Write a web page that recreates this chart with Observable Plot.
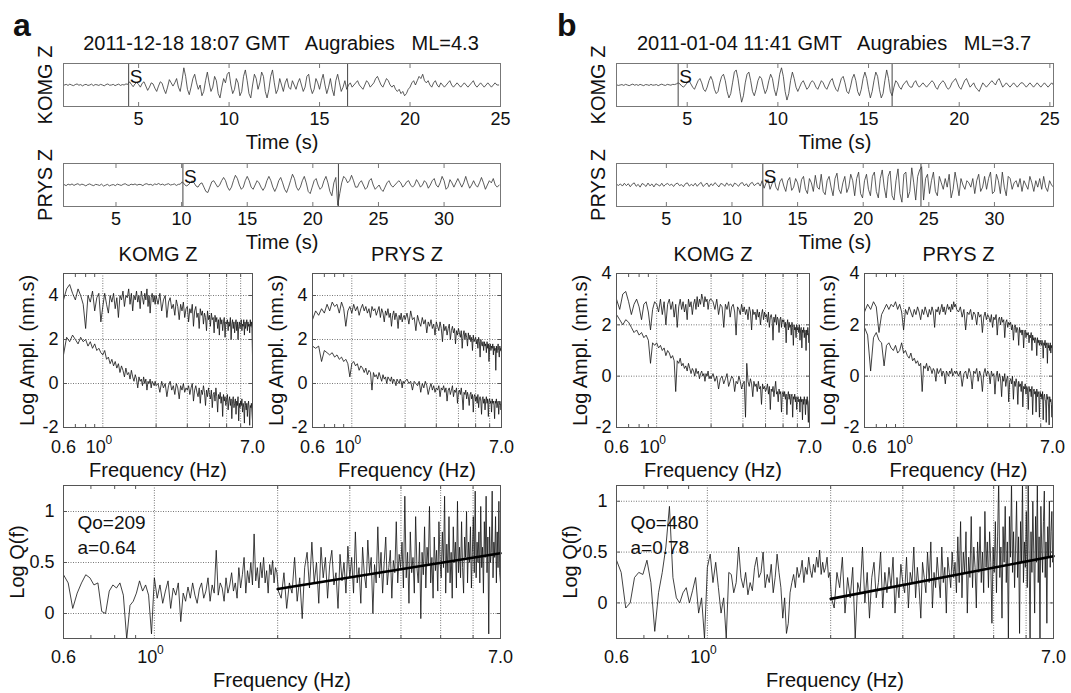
<!DOCTYPE html>
<html><head><meta charset="utf-8">
<script src="https://cdn.jsdelivr.net/npm/d3@7"></script>
<script src="https://cdn.jsdelivr.net/npm/@observablehq/plot@0.6"></script>
<style>
body{margin:0;background:#fff;}
#fig{position:relative;width:1071px;height:693px;overflow:hidden;font-family:"Liberation Sans",Arial,sans-serif;color:#111;background:#fff;}
.lbl{position:absolute;white-space:pre;line-height:1;}
</style></head><body><div id="fig"></div>
<script>
// ---------------- DATA ----------------
const panelLetters = ["a", "b"];
const eventTitles = ["2011-12-18 18:07 GMT   Augrabies   ML=4.3", "2011-01-04 11:41 GMT   Augrabies   ML=3.7"];
const stationNames = ["KOMG Z", "PRYS Z"];
const qoLabels = ["Qo=209", "Qo=480"];
const aLabels = ["a=0.64", "a=0.78"];

// seismograms (relative amplitude), sampled from start with step (s)
const komgAStart = 0.9, komgAStep = 0.1;
const komgAAmp = [0,0.3,-0.2,0.4,0,-0.3,0.2,0.5,-0.1,0.2,-0.4,0.1,0.3,-0.2,0,0.4,-0.3,0.2,0.1,-0.2,0.3,0,-0.4,0.2,0.5,-0.1,0,0.3,-0.3,0.1,0.4,-0.2,0.2,0,0.5,0.3,
1.5,0.3,-0.8,0.5,1.2,
0.2,-1,0.8,1.5,-0.5,-2.5,-1,1,0.5,-1.5,
-3,-0.5,1.5,0.8,-2,-4,-1,2.5,1,-0.5,
1,3,-1,-3,2,8,4,-2,-4.5,-1,
3,5,1,-2,0,-5,-3,2,6,1,
-3,-1,4,2,-4,-6,-1,3,1,5,
6,0,-4,-2,3,1,-5,-3,4,7,
2,-4,-6,0,5,3,-2,1,6,4,
-3,-6,-2,4,7,1,-4,-2,3,0,
-3,1,3,-1,-2,2,0,-2,1,3,
0,-3,-1,4,5,-1,-4,-2,3,1,
-2,2,5,0,-4,-1,3,-2,-5,2,
5,1,-3,-1,2,-2,0,1,-1,0,
1,2,0,-1,-2,0,2,1,-1,0,
1,3,4,2,0,-1,1,3,2,0,
-1,0,-2,-3,-2,-4,-3,-5,-4,-2,
-1,1,2,0,2,4,3,5,2,1,
2,0,-1,1,2,0,-1,1,0,-1,
0,1,2,0,-1,0,1,0,-1,0,
1,0,-1,0,1,2,0,-1,0,1,
0,-1,0,1,0,-1,0,1,0,0];
const komgAPicks = [4.45, 16.55];

const prysAStart = 1.05, prysAStep = 0.15;
const prysAAmp = [0.2,-0.3,0.4,0,0.5,-0.2,0.3,0.6,-0.1,0.4,0.1,-0.4,0.2,0.5,0,-0.3,0.3,0.1,-0.2,0.4,
-0.5,-0.1,0.3,-0.4,0,0.2,-0.3,0.4,0.1,-0.2,0.3,0.6,0,-0.2,0.4,0.1,0.5,-0.1,0.3,0.2,
-0.3,0.4,0.6,0.1,0.3,-0.2,0.5,0.2,0.7,0.1,0.4,-0.1,0.3,0.6,0,0.2,0.5,-0.2,0.3,0.4,
1.5,0.5,-0.5,0,1,2,1,-0.5,-1,0.5,
1,-1,-3,-3.5,-1,1.5,2,0.5,-1,0,
2,3.5,2,-1,-2.5,-1,2,4.5,3,0,
-2,-1,2,4,2,-1,-2,0,2,1,
-1,-2.5,-1,2,4,2,-1,-3,-1,2,
3.5,1,-2,-3.5,-1,2,5,3,-1,-2.5,
-1,2,4,1,-3,-4,-1,2,3,0,
-2,-1,2,4,1,-3,-5,1,3.5,
-9.5,
-4,1,4,3,1,2,4.5,2,-1,-1,
1,2,0,-2,-1,2,3,0,-2,-1,
0,-2,-3,-1,1,2,0,-1,0,1,
2,1,-1,0,1.5,2,0,-1,0,2.5,
1,-1,0,2,1,-1.5,0,2,3,0,
-1,1,4,2,-2,-1,2.5,1,-1,1,
3,1,-1,1,4,1,-1.5,0,2,0,
-1,1,3.5,1,-2,0,2,1,3,0,
-1,0];
const prysAPicks = [10.1, 21.95];

const komgBStart = 1.1, komgBStep = 0.1;
const komgBAmp = [0.1,-0.2,0,0.2,-0.2,0.3,0,-0.3,0.1,0.4,-0.1,0.2,-0.2,0.3,0,-0.3,0.2,0.1,-0.2,0.3,-0.1,0,0.2,-0.3,0.1,0.4,0,-0.2,0.3,0.1,-0.1,0.3,0.2,0.5,
1,0.5,-0.5,-1,0,
1,2,0.5,-1,-2,0,2,3,1,-2,
-3,-1,2,4,2,-2,-4,-3,1,4,
5,2,-3,-6,-4,1,6,7,3,-3,
-8,-5,1,5,6,2,-3,-5,-2,2,
4,3,-1,-4,-2,2,5,3,-2,-5,
-1,5,8,4,-3,-7,-4,2,6,3,
-1,-3,-1,1,2,0,-2,-1,1,2,
1,-1,-2,0,2,1,-1,-2,0,2,
3,0,-2,-3,0,3,4,1,-3,-4,
-1,3,5,2,-3,-5,-2,3,6,3,
-2,-6,-3,2,6,4,-2,-6,-4,2,
7,3,-3,-5,-1,2,1,-1,-2,0,
1,2,0,-1,-1,1,2,0,-1,0,
1,0,-1,0,1,2,1,-1,-2,0,
1,2,1,-1,-2,-1,1,2,3,1,
-1,-2,0,2,3,1,-1,0,1,-1,
-2,-3,-1,1,0,-1,0,1,2,1,
0,2,3,1,-1,0,1,0,-1,0,
1,0,-1,0,1,1,0,-1,0,1,
0,-1,0,1,0,-1,0,1,0,-1,
0,1,0,-1,0,1,2,0,-1,0];
const komgBPicks = [4.5, 16.3];

const prysBStart = 1.2, prysBStep = 0.15;
const prysBAmp = [0.3,-0.2,0.5,-0.5,0.8,-0.3,0.6,-0.8,0.4,1,-0.6,0.3,-1,0.7,0.2,-0.7,0.9,-0.4,0.5,-0.9,0.6,0.1,
-0.5,0.8,-0.6,0.3,0.7,-0.2,0.4,-0.7,0.5,0.9,-0.3,0.2,-0.8,0.6,1,-0.5,0.3,-0.4,0.8,-0.6,
0.5,1.2,-0.7,0.2,0.9,-0.8,0.6,-0.3,1.1,0.2,-0.9,0.7,0.4,-0.6,1,-0.2,0.5,-0.8,0.9,0.3,
-0.6,0.8,1.1,-0.4,0.6,-0.9,0.7,1.2,-0.3,0.5,1,-0.5,
2,-1.5,1,2.5,-2,0.5,3,-1,-2.5,1.5,
3,-0.5,-3,2,3.5,-2.5,-1,3,1,-3.5,
2.5,4,-2,-4,3,1,-3,4.5,-1,-2,
5,-3,-4.5,2,4,-1,-5,3,5.5,-2,
-4,1,4,-3.5,-1,5,2,-5,3,6,
-4,-6,2,5,-2,-5,4,6,-3,-6,
3,7,-1,-6,4,6.5,-5,-7,2,7.5,
-4,-8,5,6,-6,-3,8,1,-7,4,
7,
8.5,
-7,3,5,-4,2,6,-3,-5,4,1,
-2,3,-1,5,-6,-2,6,1,-5,3,
0,-2,2,1,-1,3,-4,2,5,-3,
-1,4,-2,3,6,-4,-3,5,2,-4,
6,-1,-5,4,3,-2,1,2,-1,3,
-3,2,0,-2,4,1,-3,2,-1,3,
-2,4,-1,-3,2,0,-1,3,1,2];
const prysBPicks = [12.35, 24.4];

const komgTicks = [5, 10, 15, 20, 25];
const prysTicks = [5, 10, 15, 20, 25, 30];

// spectra: first 56 samples at 0.6 + 0.025*i Hz, then from 2.0 Hz every 0.05 Hz
const specLowStart = 0.6, specLowStep = 0.025, specLowCount = 56;
const specHighStart = 2.0, specHighStep = 0.05;
const specAKomgUpper = [3.8,4.3,4.5,4.1,3.8,4.3,4.0,3.6,2.5,4.0,3.7,4.2,3.3,3.9,4.1,2.8,
3.5,4.1,3.6,3.2,4.0,3.7,4.1,3.4,3.9,3.0,4.0,3.8,4.2,3.5,4.0,3.9,
4.3,3.6,4.1,3.3,4.0,3.8,4.2,3.7,4.0,3.4,4.2,3.9,3.6,4.1,3.8,4.3,3.5,4.0,3.2,3.9,4.1,3.7,4.0,3.6,
4.0,
3.6,4.1,3.3,3.8,4.0,3.0,3.7,3.9,3.4,3.6,3.1,3.8,3.5,2.9,3.6,3.3,3.7,3.0,3.4,3.5,
2.8,3.4,3.2,3.6,2.6,3.3,3.5,3.0,3.2,2.5,3.4,3.1,3.3,2.7,3.2,3.0,2.4,3.3,2.9,3.1,
2.6,3.2,2.9,3.0,2.3,3.1,2.8,3.0,2.5,2.9,2.2,3.0,2.7,2.9,2.4,2.8,3.0,2.1,2.8,2.7,
2.9,2.4,2.8,2.6,3.0,2.0,2.7,2.9,2.5,2.8,2.3,2.7,2.9,2.4,2.8,2.0,2.6,2.8,2.5,2.7,
2.9,2.4,2.7,2.6,2.9,2.2,2.8,2.5,2.7,2.9,2.4,2.8,2.6,2.7,2.3,2.9,2.6,2.8,2.5,1.3];
const specAKomgLower = [1.3,2.1,1.9,2.2,2.0,1.8,2.1,1.9,2.0,1.7,1.9,1.6,1.8,1.5,1.6,1.4,
1.3,1.5,1.1,1.2,0.9,1.1,0.8,1.0,0.7,0.9,0.5,0.8,0.6,0.3,0.7,0.4,
0.5,0.2,0.6,0.3,0.1,0.4,0.2,-0.2,0.3,0.1,0.2,-0.1,0.3,0.0,0.2,-0.3,0.1,0.0,0.2,-0.2,0.1,0.0,-0.1,0.1,
-0.1,
0.0,-0.4,0.1,-0.2,0.0,-0.6,-0.1,0.1,-0.3,-0.1,-0.5,0.0,-0.2,-0.7,-0.1,-0.3,0.0,-0.4,-0.2,-0.3,
-0.1,-0.5,-0.2,0.0,-0.8,-0.3,-0.1,-0.4,-0.6,-0.2,-0.9,-0.3,-0.5,-0.1,-0.4,-1.0,-0.3,-0.6,-0.2,-0.5,
-0.7,-0.3,-1.1,-0.5,-0.4,-0.8,-0.2,-0.6,-1.3,-0.5,-0.7,-0.4,-0.9,-0.6,-1.5,-0.5,-0.8,-0.6,-1.0,-0.7,
-0.5,-1.2,-0.8,-0.6,-1.0,-0.7,-1.6,-0.8,-0.6,-1.1,-0.9,-0.7,-1.4,-0.8,-1.0,-0.6,-1.7,-0.9,-1.1,-0.8,
-1.0,-0.7,-1.3,-0.9,-1.1,-1.8,-0.8,-1.0,-1.2,-0.9,-1.5,-1.0,-0.8,-1.2,-1.9,-1.0,-1.1,-0.9,-1.3,-1.7];
const specAPrysUpper = [2.9,3.3,3.1,3.4,3.2,3.6,3.3,3.7,3.5,3.6,3.2,3.7,3.4,2.6,3.3,3.5,
3.2,3.6,3.3,3.5,3.1,3.4,3.6,3.3,3.5,3.2,3.4,3.0,3.5,3.3,3.4,3.1,
3.3,3.5,3.0,3.4,3.2,2.8,3.3,3.1,3.4,3.0,3.2,2.6,3.1,3.3,2.9,3.2,3.0,2.5,3.1,2.9,3.2,2.8,3.0,3.1,
2.9,
3.2,2.7,3.3,2.9,3.0,2.4,3.1,2.8,2.6,3.0,2.7,2.9,2.3,2.8,2.6,2.9,2.5,2.7,2.2,2.8,
2.6,2.4,2.8,2.5,1.9,2.7,2.4,2.6,2.2,2.5,2.7,2.0,2.4,2.6,2.3,2.5,1.8,2.4,2.2,2.5,
2.3,2.1,2.4,1.6,2.2,2.4,2.0,2.3,2.1,1.7,2.3,2.0,2.2,1.9,2.1,1.5,2.2,1.9,2.0,2.1,
1.8,2.0,1.6,2.1,1.9,1.2,2.0,1.8,1.7,1.9,1.5,1.9,1.7,1.8,1.4,1.9,1.6,1.8,1.0,1.7,
1.8,1.5,1.7,1.6,1.8,1.3,1.7,1.5,1.6,0.6,1.7,1.4,1.6,1.8,1.5,1.2,1.7,1.5,1.6,1.4];
const specAPrysLower = [1.7,1.6,1.7,1.0,1.5,1.4,1.3,1.4,1.2,1.3,1.1,1.2,1.0,1.1,0.9,0.3,
0.9,1.0,0.8,0.9,0.6,0.8,0.7,0.5,0.7,0.4,0.6,0.5,-0.3,0.5,0.3,0.4,
0.2,0.5,0.3,0.1,0.4,0.2,0.3,0.0,0.3,0.2,0.1,0.3,0.0,0.2,0.1,-0.1,0.2,0.1,0.0,0.2,0.1,-0.2,0.1,0.0,
0.1,
0.2,0.0,0.1,-0.3,0.1,0.0,-0.1,0.1,-0.4,0.0,-0.2,0.1,-0.1,-0.5,-0.2,0.0,-0.3,-0.1,-0.4,-0.2,
-0.3,-0.1,-0.6,-0.2,-0.3,-0.1,-0.4,-0.2,-0.8,-0.3,-0.2,-0.5,-0.3,-0.1,-0.6,-0.3,-0.4,-0.2,-0.9,-0.4,
-0.3,-0.5,-0.2,-0.6,-1.2,-0.4,-0.5,-0.3,-0.7,-0.4,-0.6,-1.0,-0.5,-0.4,-0.7,-0.5,-1.3,-0.6,-0.5,-0.8,
-0.6,-0.9,-0.5,-1.1,-0.7,-0.6,-0.8,-1.4,-0.7,-0.6,-0.9,-0.7,-1.2,-0.8,-0.6,-0.9,-0.7,-1.5,-0.8,-0.7,
-0.9,-0.8,-1.3,-0.7,-0.9,-0.8,-1.0,-1.6,-0.8,-0.9,-0.7,-1.1,-0.9,-0.8,-1.4,-1.0,-0.8,-0.9,-1.2,-1.0];
const specBKomgUpper = [3.0,2.6,3.2,3.3,2.9,2.4,2.8,3.0,2.7,2.2,2.8,2.9,2.5,1.8,2.6,2.9,
2.8,2.5,3.0,2.4,2.9,2.0,2.8,3.0,2.6,2.9,2.3,2.8,1.9,2.7,3.0,2.6,
2.9,2.5,2.8,2.2,3.0,2.7,2.9,2.4,2.8,3.0,2.6,3.1,2.7,3.0,2.8,3.2,3.0,2.7,3.1,2.9,3.0,2.6,2.9,3.0,
3.0,
2.9,2.6,3.0,2.4,2.8,2.7,1.9,2.8,2.6,2.9,2.3,2.7,2.8,2.5,1.6,2.7,2.6,2.4,2.8,2.5,
2.7,2.4,2.6,2.2,2.7,2.5,1.8,2.6,2.4,2.5,2.2,2.6,2.3,2.5,2.0,2.4,2.6,2.2,2.5,2.3,
2.4,2.1,2.5,1.9,2.3,2.4,2.2,1.4,2.3,2.1,2.4,2.0,2.3,2.2,1.7,2.2,2.3,1.9,2.2,2.1,
2.2,1.9,2.1,1.3,2.0,2.2,1.8,2.1,1.9,2.0,1.6,2.1,1.9,1.2,2.0,1.8,1.9,1.5,2.0,1.8,
1.9,1.7,2.0,1.4,1.8,1.9,1.1,1.8,1.7,1.9,1.5,1.8,1.7,1.0,1.8,1.6,1.9,1.7,1.3,1.8];
const specBKomgLower = [2.4,2.2,2.0,2.2,2.1,1.9,1.7,1.8,1.6,1.7,1.5,1.6,1.4,0.5,1.3,1.2,
1.3,1.1,1.2,1.0,1.1,0.8,1.0,0.9,0.7,0.8,0.6,-0.6,0.6,0.5,0.7,0.4,
0.5,0.3,0.4,0.2,0.5,0.3,0.1,0.3,0.2,0.0,0.3,0.1,0.2,-0.1,0.1,0.2,0.0,0.1,-0.2,0.1,0.0,0.2,-0.1,0.0,
-0.1,
0.1,-0.2,0.0,-0.5,-0.1,0.0,-0.3,-0.1,0.1,-0.4,-0.2,0.0,-0.1,-0.6,-0.2,-0.3,0.0,-0.2,-0.5,-0.3,
-0.2,-1.6,0.5,-0.2,-0.4,-0.1,-0.3,-0.8,-0.2,-0.4,-0.3,-0.6,-0.2,-0.5,-0.4,-1.1,-0.3,-0.5,-0.4,-0.6,
-0.5,-0.3,-0.7,-0.4,-1.3,-0.5,-0.6,-0.4,-0.8,-0.5,-0.2,-0.7,-0.6,-1.0,-0.5,-0.7,-0.6,-1.4,-0.7,-0.6,
-0.8,-0.6,-0.9,-0.7,-1.5,-0.8,-0.6,-0.9,-0.7,-1.1,-0.8,-0.7,-1.6,-0.8,-0.9,-0.7,-1.0,-0.8,-1.3,-0.9,
-0.8,-1.0,-0.9,-1.4,-0.8,-1.0,-0.9,-1.7,-0.9,-1.1,-0.8,-1.0,-1.5,-0.9,-1.1,-0.8,-1.2,-1.8,-1.0,-0.9];
const specBPrysUpper = [2.5,2.8,2.6,2.9,2.7,1.7,2.4,2.6,2.8,2.6,2.8,2.7,2.9,2.6,2.8,2.5,
1.8,2.6,2.4,2.7,2.5,2.3,2.6,2.4,2.7,2.5,2.2,2.6,2.4,2.7,2.5,2.3,
2.6,2.4,2.7,2.5,1.9,2.6,2.5,2.7,2.4,2.6,2.8,2.5,2.7,2.4,2.6,2.8,2.6,2.7,2.5,2.8,2.6,2.9,2.7,2.8,
2.6,
2.5,2.7,2.3,2.6,1.8,2.5,2.4,2.6,2.2,2.5,2.4,2.0,2.5,2.3,2.4,1.7,2.3,2.5,2.2,2.4,
2.3,2.1,2.4,1.9,2.3,2.2,2.4,1.6,2.2,2.3,2.0,2.3,2.1,2.2,1.5,2.1,2.2,1.9,2.1,2.0,
2.1,1.8,2.0,1.4,1.9,2.0,1.7,1.9,1.8,1.2,1.9,1.7,1.8,1.6,1.8,1.1,1.7,1.8,1.5,1.7,
1.6,1.7,1.3,1.6,1.5,1.7,1.0,1.6,1.4,1.5,1.3,1.5,1.4,0.8,1.5,1.3,1.4,1.2,1.4,1.3,
1.2,1.4,1.3,0.7,1.3,1.2,1.4,1.1,1.3,1.2,0.5,1.3,1.1,1.2,1.0,1.3,0.9,1.2,1.1,1.2];
const specBPrysLower = [1.9,1.6,0.2,1.5,1.7,1.4,1.3,0.4,1.2,1.3,1.1,1.0,1.2,0.9,1.0,1.3,
0.9,1.0,0.8,0.7,0.9,0.6,0.7,0.5,0.6,0.4,0.5,-0.6,0.4,0.3,0.5,0.2,
0.4,0.3,0.1,0.3,0.2,-0.2,0.3,0.1,0.2,0.3,0.0,0.2,0.1,-0.3,0.2,0.1,0.0,0.2,0.1,0.3,0.0,0.1,0.2,0.1,
0.2,
0.0,0.2,-0.4,0.1,0.2,-0.1,0.3,0.1,-0.5,0.2,0.1,0.3,-0.2,0.2,0.0,-0.6,0.1,0.3,0.0,0.2,
0.1,-0.3,0.2,0.0,0.1,-0.7,0.0,0.2,-0.2,0.1,-0.1,-0.8,0.0,-0.2,0.1,-0.4,-0.1,0.0,-1.0,-0.2,
-0.1,-0.3,0.0,-0.9,-0.2,-0.4,-0.1,-0.3,-1.1,-0.2,-0.4,-0.3,-0.6,-0.2,-1.2,-0.4,-0.5,-0.3,-0.7,-0.4,
-0.5,-1.3,-0.4,-0.6,-0.5,-0.8,-0.4,-1.5,-0.6,-0.5,-0.7,-0.6,-1.4,-0.5,-0.8,-0.6,-0.7,-1.6,-0.6,-0.8,
-0.7,-0.9,-0.6,-1.7,-0.8,-0.7,-0.9,-1.0,-1.8,-0.7,-0.9,-0.8,-1.2,-1.9,-0.8,-1.0,-0.9,-1.1,-1.6,-0.9];

// Log Q(f): first 88 samples at 0.6 + 0.016*i Hz, then from 2.008 Hz every 0.032 Hz
const qLowStart = 0.6, qLowStep = 0.016, qLowCount = 88;
const qHighStart = 2.008, qHighStep = 0.032;
const logQA = [0.38,0.30,0.05,0.20,0.30,0.38,0.35,0.28,0.30,0.02,0.00,0.22,0.28,0.25,0.30,0.18,-0.25,0.08,0.12,0.20,0.32,0.22,0.28,0.18,-0.20,
0.35,0.15,0.28,0.10,0.22,0.32,0.05,0.25,0.18,0.30,-0.08,0.20,0.12,0.26,0.15,0.30,0.18,0.10,0.24,0.30,0.15,0.22,0.35,0.12,0.28,
0.20,0.62,0.18,0.30,0.25,0.12,0.35,0.20,0.28,0.40,0.22,0.30,0.15,0.45,0.25,0.38,0.55,0.20,0.42,0.30,0.50,0.28,0.78,0.32,0.45,
0.25,0.50,0.35,0.55,0.30,0.42,0.20,0.48,0.38,0.52,0.30,0.45,0.40,
0.22,0.15,0.40,0.05,0.30,0.20,0.55,0.12,0.35,-0.05,0.45,0.60,0.25,0.70,0.30,0.50,0.10,0.65,0.35,0.55,0.15,0.48,0.62,0.28,0.40,0.05,0.58,0.32,0.50,0.20,0.66,0.35,
0.55,0.20,0.80,0.30,0.45,0.10,0.65,0.38,0.25,0.72,0.40,0.55,0.00,0.48,0.30,0.85,0.35,0.60,0.20,0.50,0.75,0.28,0.45,0.62,0.15,0.52,0.40,0.90,0.30,0.58,0.45,
0.70,0.25,1.15,0.35,0.60,0.10,0.80,0.40,0.55,0.20,0.95,0.45,0.30,0.70,-0.05,0.60,0.38,0.85,0.25,0.65,0.48,1.05,0.30,0.55,0.15,0.75,0.42,0.62,0.22,0.90,0.50,
0.35,0.80,0.45,1.15,0.20,0.68,0.40,0.95,0.30,0.60,0.15,0.85,0.50,0.70,0.25,1.10,0.40,0.65,0.35,0.90,0.45,0.20,0.75,0.55,1.00,0.30,0.70,0.50,0.85,0.25,0.60,
0.95,0.40,1.20,0.35,0.70,0.50,0.80,0.30,1.05,0.45,0.65,0.20,0.90,0.55,1.15,0.40,0.75,-0.20,0.85,0.50,0.60,1.20,0.35,0.70,0.55,0.95,0.30,0.80,0.45,1.10,0.40,0.30];
const logQB = [0.42,0.30,-0.05,0.00,0.25,0.30,0.28,0.42,0.20,-0.28,0.10,0.30,0.55,0.95,0.25,0.05,0.00,0.10,0.15,0.00,0.12,0.25,-0.10,0.05,-0.35,
0.35,0.48,0.20,0.40,0.15,-0.10,0.05,-0.35,0.30,0.28,0.10,0.20,0.55,0.25,0.15,0.30,0.08,0.20,0.12,0.35,0.45,0.25,0.30,0.50,0.15,
0.28,0.20,0.38,0.10,0.25,0.48,0.30,0.15,-0.15,0.05,-0.30,-0.20,0.10,0.20,0.28,0.15,0.35,0.25,0.30,0.42,0.20,0.35,0.28,0.45,0.32,
0.25,0.38,0.30,0.45,0.35,0.52,0.28,0.40,0.30,0.35,0.45,0.25,0.30,
0.05,-0.05,0.30,0.15,0.45,-0.10,0.25,0.05,0.35,-0.35,0.20,0.10,0.55,0.00,0.30,-0.15,0.25,0.40,0.05,0.20,0.50,-0.05,0.30,0.10,0.35,0.15,0.45,-0.10,0.25,0.05,0.38,0.20,
0.10,0.45,-0.05,0.30,0.20,0.55,0.05,0.35,0.15,-0.15,0.40,0.25,0.10,0.50,0.20,0.60,-0.05,0.30,0.15,0.45,0.25,0.05,0.55,0.20,0.35,-0.10,0.45,0.30,0.15,0.50,0.25,
0.40,0.10,0.65,0.20,0.80,0.05,0.50,0.30,0.70,-0.10,0.45,0.25,0.85,0.15,0.55,0.35,-0.05,0.60,0.30,0.75,0.20,0.50,0.10,0.90,0.35,0.60,0.15,0.70,0.40,-0.20,0.55,
0.30,0.80,0.10,0.65,1.20,0.25,0.55,-0.15,0.75,0.40,0.95,0.20,0.60,-0.35,0.85,0.45,1.20,0.30,0.70,0.15,0.55,1.00,0.25,0.65,-0.30,0.80,0.40,1.20,0.20,0.60,0.35,
0.90,0.15,1.20,0.45,-0.35,0.70,0.30,1.00,0.50,-0.10,0.85,0.40,1.20,0.20,0.65,-0.35,0.95,0.55,0.30,0.80,1.10,0.25,0.60,-0.20,0.75,0.45,1.00,0.35,0.70,0.90,0.40,0.45];
// fitted Q(f) lines (endpoints)
const fitFreq = [2, 7];
const fitA = [0.24, 0.59];
const fitB = [0.04, 0.46];

// axis ticks / grids
const freqGrid = [1, 2, 3, 4, 5, 6];
const freqMinor = [0.7, 0.8, 0.9, 2, 3, 4, 5, 6];
const freqEdgeTicks = [0.6, 7];
const freqEdgeText = ["0.6", "7.0"];
const decadeTick = [1];
const specYTicks = [-2, 0, 2, 4];
const qYTicks = [0, 0.5, 1];
const qYText = ["0", "0.5", "1"];

// ---------------- DRAWING ----------------
const FONT = '"Liberation Sans", Arial, sans-serif';
const fig = document.getElementById("fig");

function addDiv(text, css) {
  const d = document.createElement("div");
  d.className = "lbl"; d.textContent = text; d.style.cssText += css;
  fig.appendChild(d);
}
function T(data, opts) {
  return Plot.text(data, {textAnchor: "middle", lineAnchor: "middle", fill: "#111", ...opts});
}
function twoSeg(arr, s0, st0, n0, s1, st1) {
  return arr.map((v, i) => ({f: i < n0 ? s0 + i * st0 : s1 + (i - n0) * st1, v}));
}

function panel(x0, x1, y0, y1, xOpt, yOpt, marks) {
  const mL = 90, mR = 40, mT = 40, mB = 70;
  const svg = Plot.plot({
    width: x1 - x0 + mL + mR, height: y1 - y0 + mT + mB,
    marginLeft: mL, marginRight: mR, marginTop: mT, marginBottom: mB,
    axis: null, x: xOpt, y: yOpt,
    style: {fontFamily: FONT, background: "transparent", overflow: "visible", color: "#111"},
    marks
  });
  svg.style.position = "absolute";
  svg.style.left = (x0 - mL) + "px";
  svg.style.top = (y0 - mT) + "px";
  svg.style.maxWidth = "none";
  fig.appendChild(svg);
}

function seis(x0, x1, y0, y1, amp, t0, dt, domain, picks, ticks, name) {
  const data = amp.map((v, i) => ({t: t0 + i * dt, v}));
  panel(x0, x1, y0, y1, {domain}, {domain: [-10, 10]}, [
    Plot.line(data, {x: "t", y: "v", stroke: "#333", strokeWidth: 0.8, clip: true}),
    Plot.ruleX(picks, {x: d => d, stroke: "#444", strokeWidth: 1}),
    Plot.frame({stroke: "#777"}),
    Plot.axisX(ticks, {anchor: "bottom", tickSize: -4, fill: "none", label: null, stroke: "#777"}),
    Plot.axisX(ticks, {anchor: "top", tickSize: -4, fill: "none", label: null, stroke: "#777"}),
    T(ticks, {x: d => d, text: d => String(d), frameAnchor: "bottom", dy: 13, fontSize: 18}),
    T(["Time (s)"], {text: d => d, frameAnchor: "bottom", dy: 36, fontSize: 20}),
    T([name], {text: d => d, frameAnchor: "left", dx: -18, rotate: -90, fontSize: 20}),
    T([picks[0]], {x: d => d, text: () => "S", frameAnchor: "top", dx: 1, dy: 13, textAnchor: "start", fontSize: 19})
  ]);
}

function logAxisMarks(labelDy) {
  return [
    Plot.axisX(freqMinor, {anchor: "bottom", tickSize: -3, fill: "none", label: null, stroke: "#555"}),
    Plot.axisX(freqMinor, {anchor: "top", tickSize: -3, fill: "none", label: null, stroke: "#555"}),
    T(freqEdgeTicks, {x: d => d, text: (d, i) => freqEdgeText[i], frameAnchor: "bottom", dy: labelDy, fontSize: 18}),
    T(decadeTick, {x: d => d, text: () => "10", frameAnchor: "bottom", dy: labelDy, dx: -7, fontSize: 18}),
    T(decadeTick, {x: d => d, text: () => "0", frameAnchor: "bottom", dy: labelDy - 7, dx: 6, fontSize: 12}),
    T(["Frequency (Hz)"], {text: d => d, frameAnchor: "bottom", dy: labelDy + 23, fontSize: 20})
  ];
}

function spec(x0, x1, ydom, upper, lower, title) {
  const rows = arr => twoSeg(arr, specLowStart, specLowStep, specLowCount, specHighStart, specHighStep);
  const gridY = specYTicks.filter(d => d > ydom[0] && d < ydom[1]);
  panel(x0, x1, 273, 427, {type: "log", domain: [0.6, 7]}, {domain: ydom}, [
    Plot.ruleX(freqGrid, {x: d => d, stroke: "#555", strokeDasharray: "1,1.5", strokeWidth: 0.8}),
    Plot.ruleY(gridY, {y: d => d, stroke: "#555", strokeDasharray: "1,1.5", strokeWidth: 0.8}),
    Plot.line(rows(upper), {x: "f", y: "v", stroke: "#111", strokeWidth: 0.8, clip: true}),
    Plot.line(rows(lower), {x: "f", y: "v", stroke: "#111", strokeWidth: 0.8, clip: true}),
    Plot.frame({stroke: "#555"}),
    Plot.axisY(specYTicks, {anchor: "left", tickSize: -4, fill: "none", label: null, stroke: "#555"}),
    Plot.axisY(specYTicks, {anchor: "right", tickSize: -4, fill: "none", label: null, stroke: "#555"}),
    T(specYTicks, {y: d => d, text: d => String(d), frameAnchor: "left", dx: -5, textAnchor: "end", fontSize: 18}),
    T(["Log Ampl. (nm.s)"], {text: d => d, frameAnchor: "left", dx: -36, rotate: -90, fontSize: 20}),
    T([title], {text: d => d, frameAnchor: "top", dy: -19, fontSize: 20}),
    ...logAxisMarks(20)
  ]);
}

function qpanel(x0, x1, ydom, vals, fit, qo, aa) {
  const rows = twoSeg(vals, qLowStart, qLowStep, qLowCount, qHighStart, qHighStep);
  const fitRows = fitFreq.map((f, i) => ({f, v: fit[i]}));
  panel(x0, x1, 485, 638, {type: "log", domain: [0.6, 7]}, {domain: ydom}, [
    Plot.ruleX(freqGrid, {x: d => d, stroke: "#555", strokeDasharray: "1,1.5", strokeWidth: 0.8}),
    Plot.ruleY(qYTicks, {y: d => d, stroke: "#555", strokeDasharray: "1,1.5", strokeWidth: 0.8}),
    Plot.line(rows, {x: "f", y: "v", stroke: "#111", strokeWidth: 0.8, clip: true}),
    Plot.line(fitRows, {x: "f", y: "v", stroke: "#000", strokeWidth: 2.6}),
    Plot.frame({stroke: "#555"}),
    Plot.axisY(qYTicks, {anchor: "left", tickSize: -4, fill: "none", label: null, stroke: "#555"}),
    Plot.axisY(qYTicks, {anchor: "right", tickSize: -4, fill: "none", label: null, stroke: "#555"}),
    T(qYTicks, {y: d => d, text: (d, i) => qYText[i], frameAnchor: "left", dx: -9, textAnchor: "end", fontSize: 18}),
    T(["Log Q(f)"], {text: d => d, frameAnchor: "left", dx: -46, rotate: -90, fontSize: 20}),
    T([qo], {text: d => d, frameAnchor: "top-left", dx: 14, dy: 37, textAnchor: "start", fontSize: 19}),
    T([aa], {text: d => d, frameAnchor: "top-left", dx: 14, dy: 62, textAnchor: "start", fontSize: 19}),
    ...logAxisMarks(19)
  ]);
}

// panel a
addDiv(panelLetters[0], "left:13px;top:9px;font-size:32px;font-weight:bold;");
addDiv(eventTitles[0], "left:281px;top:33px;transform:translateX(-50%);font-size:20px;");
seis(63, 500, 63, 106, komgAAmp, komgAStart, komgAStep, [0.85, 25], komgAPicks, komgTicks, stationNames[0]);
seis(63, 500, 163, 206, prysAAmp, prysAStart, prysAStep, [1.0, 34.3], prysAPicks, prysTicks, stationNames[1]);
spec(63, 252, [-2, 5], specAKomgUpper, specAKomgLower, stationNames[0]);
spec(312, 501, [-2, 5], specAPrysUpper, specAPrysLower, stationNames[1]);
qpanel(63, 500, [-0.245, 1.255], logQA, fitA, qoLabels[0], aLabels[0]);

// panel b
addDiv(panelLetters[1], "left:557px;top:9px;font-size:32px;font-weight:bold;");
addDiv(eventTitles[1], "left:834px;top:33px;transform:translateX(-50%);font-size:20px;");
seis(616, 1053, 63, 106, komgBAmp, komgBStart, komgBStep, [1.1, 25.2], komgBPicks, komgTicks, stationNames[0]);
seis(616, 1053, 163, 206, prysBAmp, prysBStart, prysBStep, [1.2, 34.5], prysBPicks, prysTicks, stationNames[1]);
spec(616, 809, [-2, 4], specBKomgUpper, specBKomgLower, stationNames[0]);
spec(864, 1052, [-2, 4], specBPrysUpper, specBPrysLower, stationNames[1]);
qpanel(616, 1053, [-0.35, 1.155], logQB, fitB, qoLabels[1], aLabels[1]);
</script></body></html>
